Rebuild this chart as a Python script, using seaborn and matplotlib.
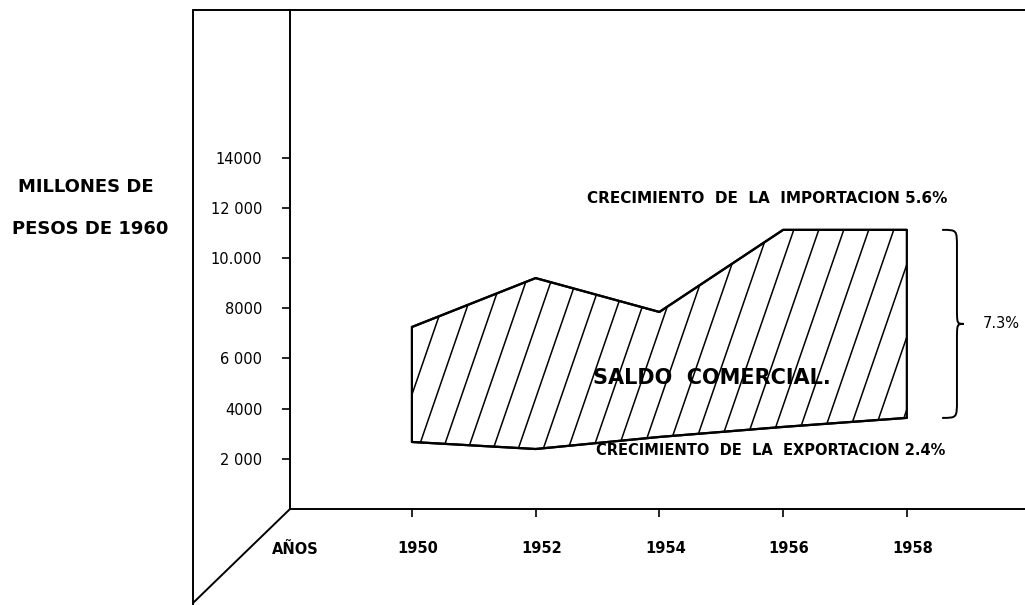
import numpy as np
import pandas as pd
import matplotlib
matplotlib.use("Agg")
import matplotlib.pyplot as plt
import matplotlib.transforms as mtransforms
from matplotlib.lines import Line2D
from matplotlib.path import Path
from matplotlib.patches import PathPatch
import seaborn as sns

# ─── DATA (millones de pesos de 1960) ─────────────────────
years = [1950, 1952, 1954, 1956, 1958]
importacion = [7250, 9200, 7850, 11120, 11120]
exportacion = [2670, 2390, 2870, 3270, 3630]

y_ticks = [2000, 4000, 6000, 8000, 10000, 12000, 14000]
y_tick_labels = ["2 000", "4000", "6 000", "8000", "10.000", "12 000", "14000"]
x_tick_labels = ["1950", "1952", "1954", "1956", "1958"]

txt_import = "CRECIMIENTO  DE  LA  IMPORTACION 5.6%"
txt_export = "CRECIMIENTO  DE  LA  EXPORTACION 2.4%"
txt_saldo = "SALDO  COMERCIAL."
txt_gap = "7.3%"
txt_units = ["MILLONES DE", "PESOS DE 1960"]
txt_years = "AÑOS"

df = pd.DataFrame({"anio": years, "importacion": importacion,
                   "exportacion": exportacion})

# ─── STYLE ────────────────────────────────────────────────
sns.set_style("white")
plt.rcParams["font.family"] = ["DejaVu Sans"]
plt.rcParams["text.color"] = "black"
plt.rcParams["xtick.color"] = "black"
plt.rcParams["ytick.color"] = "black"

W, H = 1025, 605
fig = plt.figure(figsize=(W / 100, H / 100), dpi=100)


def fx(px):
    return px / W


def fy(py):
    return 1 - py / H


# axes box: inner y axis at x=290, baseline at y=509, top at y=10
ax = fig.add_axes([fx(290), fy(509), fx(1025) - fx(290), fy(10) - fy(509)])
ax.set_xlim(1948.03, 1959.91)
ax.set_ylim(0, 19880)

for side in ["top", "right"]:
    ax.spines[side].set_visible(False)
for side in ["left", "bottom"]:
    ax.spines[side].set_linewidth(1.4)
    ax.spines[side].set_color("black")

ax.set_xticks(years)
ax.set_xticklabels(x_tick_labels, fontsize=10.5, fontweight="bold")
ax.set_yticks(y_ticks)
ax.set_yticklabels(y_tick_labels, fontsize=10.5)
ax.tick_params(axis="x", direction="out", length=6, width=1.2, pad=17,
               bottom=True, labelcolor="black")
ax.tick_params(axis="y", direction="out", length=6, width=1.2, pad=14,
               left=True, labelcolor="black")

# hand lettering sits a little right of each tick
shift = mtransforms.ScaledTranslation(6 / 100, 0, fig.dpi_scale_trans)
for lab in ax.get_xticklabels():
    lab.set_transform(lab.get_transform() + shift)

# ─── AREA + LINES ─────────────────────────────────────────
poly = ax.fill_between(df["anio"], df["exportacion"], df["importacion"],
                       facecolor="none", edgecolor="black", linewidth=1.6)
sns.lineplot(data=df, x="anio", y="importacion", color="black", lw=1.6, ax=ax)
sns.lineplot(data=df, x="anio", y="exportacion", color="black", lw=1.6, ax=ax)
ax.set_xlabel("")
ax.set_ylabel("")

# steep hand-style hatching, clipped to the area
clip_path = poly.get_paths()[0]
ax_w, ax_h = 735, 499
slope = 2.9                      # pixel rise per pixel run
run = ax_h / slope / ax_w        # x shift (axes fraction) over full height
for x0 in np.arange(-0.5, 1.0, 25 / ax_w):
    ln = Line2D([x0, x0 + run], [0, 1], transform=ax.transAxes,
                color="black", lw=1.1)
    ln.set_clip_path(clip_path, ax.transData)
    ax.add_line(ln)

# ─── BRACE for the gap in 1958 ────────────────────────────
y_top, y_bot = importacion[-1], exportacion[-1]
y_mid = (y_top + y_bot) / 2
xa, xb, xc = 1958.57, 1958.81, 1958.92
d = 700
verts = [(xa, y_top), (xb, y_top), (xb, y_top), (xb, y_top - d),
         (xb, y_mid + d),
         (xb, y_mid), (xb, y_mid), (xc, y_mid),
         (xb, y_mid), (xb, y_mid), (xb, y_mid - d),
         (xb, y_bot + d),
         (xb, y_bot), (xb, y_bot), (xa, y_bot)]
codes = [Path.MOVETO, Path.CURVE4, Path.CURVE4, Path.CURVE4,
         Path.LINETO,
         Path.CURVE4, Path.CURVE4, Path.CURVE4,
         Path.CURVE4, Path.CURVE4, Path.CURVE4,
         Path.LINETO,
         Path.CURVE4, Path.CURVE4, Path.CURVE4]
ax.add_patch(PathPatch(Path(verts, codes), facecolor="none",
                       edgecolor="black", lw=1.4, clip_on=False))

# ─── TEXT ─────────────────────────────────────────────────
ax.text(1955.75, 12390, txt_import, ha="center", va="center", fontsize=11,
        fontweight="bold")
ax.text(1955.8, 2350, txt_export, ha="center", va="center", fontsize=10.5,
        fontweight="bold")
ax.text(1954.85, 5220, txt_saldo, ha="center", va="center", fontsize=15,
        fontweight="heavy")
ax.text(1959.53, y_mid, txt_gap, ha="center", va="center", fontsize=10.5,
        clip_on=False)

fig.text(fx(86), fy(187), txt_units[0], ha="center", va="center",
         fontsize=13, fontweight="heavy")
fig.text(fx(90), fy(229), txt_units[1], ha="center", va="center",
         fontsize=13, fontweight="heavy")
fig.text(fx(295), fy(549), txt_years, ha="center", va="center",
         fontsize=10.5, fontweight="bold")

# ─── OUTER FRAME (drawn on the figure) ────────────────────
frame = [((193, 193), (10, 605)),
         ((193, 1025), (10, 10)),
         ((290, 193), (509, 603))]
for xs, ys in frame:
    fig.add_artist(Line2D([fx(v) for v in xs], [fy(v) for v in ys],
                          color="black", lw=1.4))

plt.savefig("out.png", dpi=100)
plt.close()
